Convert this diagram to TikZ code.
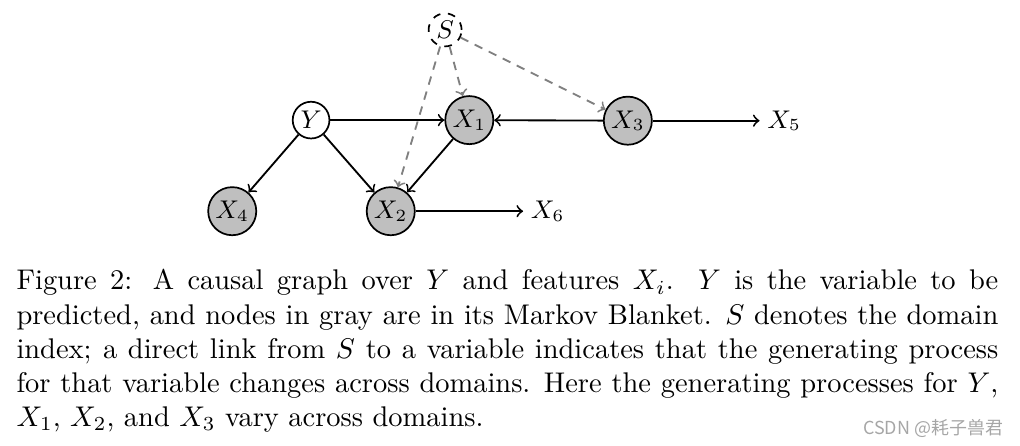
\documentclass[tikz,border=0pt]{standalone}
\usepackage{amsmath}
\usepackage{fontspec}
\newfontfamily\cjkfont{Noto Sans CJK SC}
\usepackage{tikz}
\tikzstyle{mbnode} = [circle, draw=black, semithick, fill=black!25, minimum size=16.9pt, inner sep=0pt, font=\small]
\tikzstyle{ynode} = [circle, draw=black, semithick, fill=white, minimum size=12.9pt, inner sep=0pt, font=\small]
\tikzstyle{snode} = [circle, draw=black, semithick, dash pattern=on 2.7pt off 2.7pt, minimum size=11.6pt, inner sep=0pt, font=\small]
\tikzstyle{leaf} = [inner sep=2.5pt, font=\small]
\tikzstyle{arrow} = [line width=0.65pt,->]
\tikzstyle{sarrow} = [line width=0.65pt,->,gray,dash pattern=on 3pt off 2.5pt]

\begin{document}
\begin{tikzpicture}
\useasboundingbox (0,0) rectangle (358.4pt,-156.4pt);

%% Domain index
\node [snode] (s) at (156.4pt,-10.5pt) {$S$};

%% Upper row
\node [ynode] (y) at (109.3pt,-42.2pt) {$Y$};
\node [mbnode] (x1) at (164.9pt,-42.2pt) {$X_1$};
\node [mbnode] (x3) at (220.6pt,-42.4pt) {$X_3$};
\node [leaf] (x5) at (275.5pt,-42.4pt) {$X_5$};

%% Lower row
\node [mbnode] (x4) at (81.6pt,-74.2pt) {$X_4$};
\node [mbnode] (x2) at (137.3pt,-74.2pt) {$X_2$};
\node [leaf] (x6) at (192.4pt,-74.2pt) {$X_6$};

%% Causal links
\draw [arrow] (y) -- (x1);
\draw [arrow] (y) -- (x4);
\draw [arrow] (y) -- (x2);
\draw [arrow] (x1) -- (x2);
\draw [arrow] (x3) -- (x1);
\draw [arrow] (x3) -- (x5);
\draw [arrow] (x2) -- (x6);

%% Changing mechanisms
\foreach \v in {x1,x2,x3}
	\draw [sarrow] (s) -- (\v);

%% Caption
\node [anchor=north west, inner sep=0pt, text width=345pt, align=justify, font=\normalsize] (caption) at (5.6pt,-94.5pt)
	{Figure 2: A causal graph over $Y$ and features $X_i$. $Y$ is the variable to be
	predicted, and nodes in gray are in its Markov Blanket. $S$ denotes the domain
	index; a direct link from $S$ to a variable indicates that the generating process
	for that variable changes across domains. Here the generating processes for $Y$,
	$X_1$, $X_2$, and $X_3$ vary across domains.};

\node [anchor=base east, inner sep=0pt, text=black!35, font=\cjkfont\fontsize{6.3pt}{7.5pt}\selectfont] (mark) at (352.6pt,-152.5pt)
	{CSDN @耗子兽君};

\end{tikzpicture}
\end{document}
